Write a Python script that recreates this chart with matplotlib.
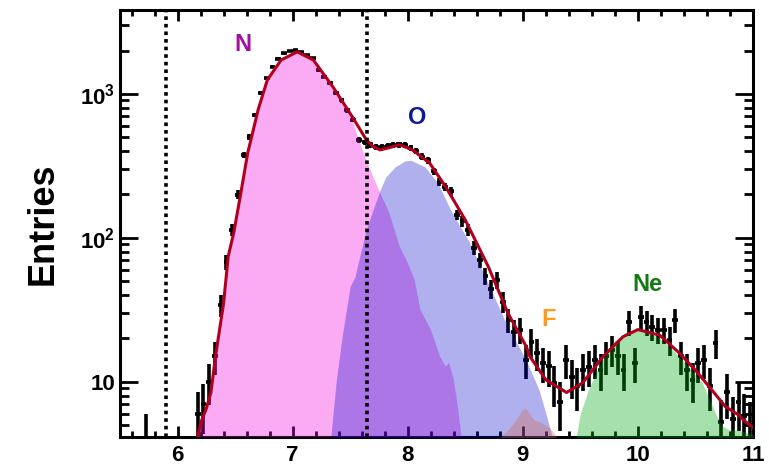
#!/usr/bin/env python3
"""Charge spectrum with N / O / F / Ne template fits (log scale)."""

import matplotlib

matplotlib.use("Agg")
import matplotlib.pyplot as plt
import numpy as np
from matplotlib.ticker import FixedLocator, LogLocator, MultipleLocator, NullFormatter

plt.rcParams["font.family"] = ["Liberation Sans", "DejaVu Sans"]
plt.rcParams["mathtext.fontset"] = "custom"
plt.rcParams["mathtext.rm"] = "Liberation Sans"
plt.rcParams["mathtext.bf"] = "Liberation Sans:bold"

# measured entries per bin (bin width 0.05)
data_x = [5.725,
          6.175, 6.225, 6.275, 6.325, 6.375, 6.425, 6.475, 6.525, 6.575, 6.625,
          6.675, 6.725, 6.775, 6.825, 6.875, 6.925, 6.975, 7.025, 7.075, 7.125,
          7.175, 7.225, 7.275, 7.325, 7.375, 7.425, 7.475, 7.525, 7.575, 7.625,
          7.675, 7.725, 7.775, 7.825, 7.875, 7.925, 7.975, 8.025, 8.075, 8.125,
          8.175, 8.225, 8.275, 8.325, 8.375, 8.425, 8.475, 8.525, 8.575, 8.625,
          8.675, 8.725, 8.775, 8.825, 8.875, 8.925, 8.975, 9.025, 9.075, 9.125,
          9.175, 9.225, 9.275, 9.325, 9.375, 9.425, 9.475, 9.525, 9.575, 9.625,
          9.675, 9.725, 9.775, 9.825, 9.875, 9.925, 9.975, 10.025, 10.075, 10.125,
          10.175, 10.225, 10.275, 10.325, 10.375, 10.425, 10.475, 10.525, 10.575, 10.625,
          10.675, 10.725, 10.775, 10.825, 10.875, 10.925, 10.975]
data_y = [4.0,
          6.0, 7.0, 10.0, 15.0, 34.0, 68.0, 114.0, 199.0, 377.0, 500.0,
          714.0, 1010.0, 1285.0, 1550.0, 1760.0, 1920.0, 1990.0, 2020.0, 1940.0, 1865.0,
          1770.0, 1468.0, 1320.0, 1186.0, 1010.0, 900.0, 770.0, 660.0, 480.0, 460.0,
          445.0, 430.0, 428.0, 435.0, 442.0, 445.0, 442.0, 420.0, 400.0, 367.0,
          345.0, 290.0, 246.0, 225.0, 210.0, 145.0, 130.0, 114.0, 85.0, 70.0,
          54.0, 44.0, 51.0, 36.0, 27.0, 22.0, 23.0, 14.2, 19.0, 15.8,
          13.5, 12.8, 9.8, 7.2, 14.2, 10.8, 9.3, 12.0, 12.7, 14.2,
          12.0, 15.0, 16.7, 15.0, 12.0, 25.8, 13.5, 28.0, 25.8, 24.0,
          23.0, 23.0, 19.5, 27.0, 15.0, 12.0, 10.3, 13.5, 14.2, 9.3,
          18.6, 5.2, 8.4, 5.5, 7.2, 5.8, 5.0]

# total fit
fit_x = [6.17, 6.21, 6.25, 6.29, 6.33, 6.40, 6.44, 6.49, 6.55, 6.61,
         6.70, 6.78, 6.90, 7.04, 7.18, 7.35, 7.52, 7.64, 7.70, 7.76,
         7.85, 7.93, 8.04, 8.19, 8.33, 8.50, 8.70, 8.87, 9.03, 9.06,
         9.20, 9.38, 9.52, 9.70, 9.87, 10.0, 10.19, 10.36, 10.50, 10.64,
         10.76, 10.87, 10.93, 11.0]
fit_y = [4.0, 5.4, 6.5, 8.4, 15, 35, 74, 110, 205, 389,
         774, 1250, 1720, 1960, 1720, 1120, 690, 480, 430, 408,
         425, 443, 408, 331, 226, 133, 63, 30, 17.5, 15,
         10.3, 8.4, 9.8, 15, 20.5, 23, 21, 15.8, 12, 8.8,
         6.7, 5.9, 5.3, 4.8]

# template components
n_x = [6.17, 6.21, 6.25, 6.29, 6.33, 6.40, 6.44, 6.49, 6.55, 6.61,
       6.70, 6.78, 6.90, 7.04, 7.18, 7.35, 7.52, 7.57, 7.63, 7.71,
       7.75, 7.84, 7.93, 8.00, 8.06, 8.11, 8.20, 8.28, 8.33, 8.36,
       8.40, 8.43, 8.47]
n_y = [4.0, 5.4, 6.5, 8.4, 15, 35, 70, 110, 205, 389,
       774, 1250, 1720, 1960, 1720, 1120, 660, 490, 365, 253,
       215, 149, 87, 67, 51, 31.6, 23, 15, 12.7, 13.5,
       10.3, 7.2, 4.0]

o_x = [7.33, 7.38, 7.43, 7.50, 7.54, 7.59, 7.64, 7.70, 7.76, 7.81,
       7.89, 7.98, 8.03, 8.15, 8.26, 8.38, 8.53, 8.68, 8.85, 9.03,
       9.14, 9.20, 9.26]
o_y = [4.0, 10.3, 20.5, 46, 53, 78, 114, 157, 215, 265,
       311, 343, 345, 311, 241, 152, 95, 52, 26, 14,
       8.8, 6.0, 4.0]

f_x = [8.79, 8.86, 8.94, 8.99, 9.02, 9.05, 9.10, 9.16, 9.23, 9.27, 9.30]
f_y = [4.0, 4.5, 5.4, 6.3, 6.6, 6.1, 5.4, 5.2, 4.8, 4.4, 4.0]

ne_x = [9.46, 9.50, 9.57, 9.66, 9.78, 9.90, 10.03, 10.17, 10.30, 10.44,
        10.56, 10.67, 10.73, 10.80, 10.88, 10.95, 11.0]
ne_y = [4.0, 6.0, 8.8, 12.7, 18.6, 22.2, 23, 20.5, 16.7, 12.7,
        9.8, 6.1, 4.9, 4.6, 4.6, 4.4, 4.3]

cut_lines = [5.9, 7.65]


def main():
    fig = plt.figure(figsize=(7.69, 4.65), dpi=100)
    ax = fig.add_axes([120 / 769, 1 - 437 / 465, 633 / 769, 427 / 465])

    dy = np.sqrt(np.array(data_y))
    ax.errorbar(data_x, data_y, xerr=0.025, yerr=dy, fmt="none",
                ecolor="black", elinewidth=2.6, capsize=0, zorder=2)

    ax.fill_between(n_x, n_y, 1, color="#f000e0", alpha=0.33, lw=0, zorder=3)
    ax.fill_between(o_x, o_y, 1, color="#0000cd", alpha=0.31, lw=0, zorder=3)
    ax.fill_between(f_x, f_y, 1, color="#d46a4a", alpha=0.35, lw=0, zorder=3)
    ax.fill_between(ne_x, ne_y, 1, color="#00aa14", alpha=0.35, lw=0, zorder=3)

    ax.plot(fit_x, fit_y, color="#b0001e", lw=2.2, zorder=4)

    for xc in cut_lines:
        ax.axvline(xc, color="black", lw=2.6, ls=(0, (1, 1.1)), zorder=5)

    ax.text(6.57, 2190, "N", color="#a0109e", fontsize=17, fontweight="bold",
            ha="center", va="center")
    ax.text(8.08, 690, "O", color="#0a1a9a", fontsize=17, fontweight="bold",
            ha="center", va="center")
    ax.text(9.22, 27, "F", color="#ff9a1a", fontsize=17, fontweight="bold",
            ha="center", va="center")
    ax.text(10.08, 47, "Ne", color="#157a15", fontsize=17, fontweight="bold",
            ha="center", va="center")

    ax.set_yscale("log")
    ax.set_xlim(5.5, 11.0)
    ax.set_ylim(4.12, 3830)

    ax.xaxis.set_major_locator(MultipleLocator(1))
    ax.xaxis.set_minor_locator(MultipleLocator(0.2))
    ax.yaxis.set_major_locator(FixedLocator([10, 100, 1000]))
    ax.yaxis.set_minor_locator(LogLocator(base=10, subs=np.arange(2, 10)))
    ax.yaxis.set_minor_formatter(NullFormatter())
    ax.set_yticklabels(["10", r"$\mathbf{10^{2}}$", r"$\mathbf{10^{3}}$"])

    ax.tick_params(axis="both", which="both", direction="in", top=True,
                   right=True, width=2.0, labelsize=16)
    ax.tick_params(axis="x", which="major", length=8)
    ax.tick_params(axis="x", which="minor", length=4)
    ax.tick_params(axis="y", which="major", length=13)
    ax.tick_params(axis="y", which="minor", length=6.5)
    ax.tick_params(axis="x", pad=6)
    for lab in ax.get_xticklabels() + ax.get_yticklabels():
        lab.set_fontweight("bold")

    for spine in ax.spines.values():
        spine.set_linewidth(2.2)

    ax.set_ylabel("Entries", fontsize=26, fontweight="bold", labelpad=14)

    fig.savefig("out.png", dpi=100)
    plt.close(fig)


if __name__ == "__main__":
    main()
